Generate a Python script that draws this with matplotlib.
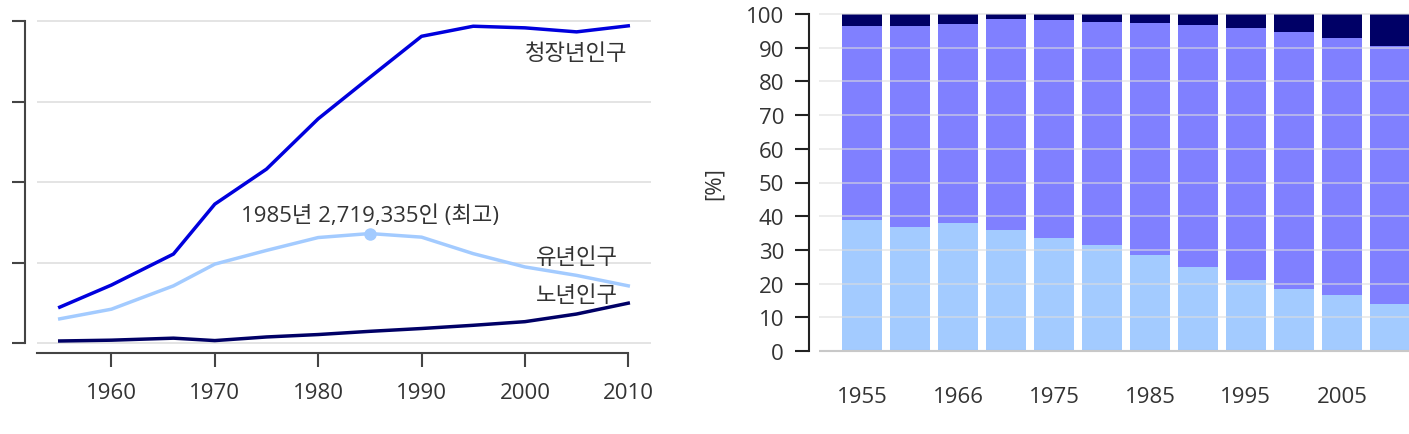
import matplotlib
matplotlib.use('Agg')
import matplotlib.pyplot as plt

plt.rcParams['font.family'] = ['Open Sans', 'Noto Sans CJK KR', 'DejaVu Sans']

# census years
years = [1955, 1960, 1966, 1970, 1975, 1980, 1985, 1990, 1995, 2000, 2005, 2010]

# population by age group, millions
working = [0.89, 1.44, 2.21, 3.45, 4.32, 5.57, 6.60, 7.62, 7.87, 7.83, 7.73, 7.88]
young = [0.60, 0.84, 1.42, 1.96, 2.30, 2.62, 2.719335, 2.63, 2.22, 1.89, 1.68, 1.42]
old = [0.05, 0.07, 0.12, 0.06, 0.15, 0.21, 0.29, 0.36, 0.44, 0.53, 0.72, 0.99]

# shares in %
young_pct = [38.8, 36.9, 38.1, 35.9, 33.6, 31.4, 28.4, 24.9, 21.1, 18.5, 16.6, 13.9]
working_pct = [57.7, 59.6, 58.8, 62.6, 64.7, 66.3, 68.9, 71.8, 74.8, 76.3, 76.4, 76.6]
old_pct = [3.5, 3.5, 3.1, 1.5, 1.7, 2.3, 2.7, 3.3, 4.1, 5.2, 7.0, 9.5]

peak_year = 1985
peak_value = 2.719335
peak_label = '1985년 2,719,335인 (최고)'

c_working = '#0000dd'
c_young = '#a3cbff'
c_old = '#000066'
c_bar_working = '#8080ff'
txt = '#333333'
fs = 16

W, H = 1409, 435
fig = plt.figure(figsize=(W / 100, H / 100), dpi=100)

# ---- left: line chart ----
ax1 = fig.add_axes([37 / W, (H - 346) / H, 614 / W, 326 / H])
ax1.plot(years, working, color=c_working, lw=2.5, solid_joinstyle='round')
ax1.plot(years, young, color=c_young, lw=2.5, solid_joinstyle='round')
ax1.plot(years, old, color=c_old, lw=2.5, solid_joinstyle='round')
ax1.plot([peak_year], [peak_value], 'o', color=c_young, ms=8)

ax1.set_xlim(1952.8, 2012.2)
ax1.set_ylim(-2 / 40.25, 8 + 2 / 40.25)
ax1.set_yticks([0, 2, 4, 6, 8])
ax1.set_yticklabels([])
ax1.set_xticks([1960, 1970, 1980, 1990, 2000, 2010])
ax1.grid(axis='y', color='#e4e4e4', lw=1.4)
ax1.set_axisbelow(True)

for s in ['top', 'right']:
    ax1.spines[s].set_visible(False)
ax1.spines['left'].set_position(('outward', 8.6))
ax1.spines['left'].set_bounds(0, 8)
ax1.spines['bottom'].set_position(('outward', 5.8))
ax1.spines['bottom'].set_bounds(1952.8, 2010)
for s in ['left', 'bottom']:
    ax1.spines[s].set_color('#444444')
    ax1.spines[s].set_linewidth(1.5)
ax1.tick_params(axis='y', length=9.5, width=1.5, color='#444444')
ax1.tick_params(axis='x', length=10, width=1.5, color='#444444',
                labelsize=fs, labelcolor=txt, pad=11)

ax1.text(2005, 7.2, '청장년인구', ha='center', va='center', fontsize=fs, color=txt)
ax1.text(2005, 2.13, '유년인구', ha='center', va='center', fontsize=fs, color=txt)
ax1.text(2005, 1.19, '노년인구', ha='center', va='center', fontsize=fs, color=txt)
ax1.text(peak_year, 3.17, peak_label, ha='center', va='center', fontsize=fs, color=txt)

# ---- right: stacked bars ----
ax2 = fig.add_axes([819 / W, (H - 354) / H, (W - 819) / W, 341 / H])
idx = list(range(len(years)))
bw = 0.84
bottom2 = [a + b for a, b in zip(young_pct, working_pct)]
ax2.bar(idx, young_pct, width=bw, color=c_young)
ax2.bar(idx, working_pct, bottom=young_pct, width=bw, color=c_bar_working)
ax2.bar(idx, old_pct, bottom=bottom2, width=bw, color=c_old)

ax2.set_xlim(-0.896, 11.4)
ax2.set_ylim(-2 / 3.37, 100 + 2 / 3.37)
ax2.set_yticks(range(0, 101, 10))
ax2.set_xticks(idx[::2])
ax2.set_xticklabels([str(y) for y in years[::2]])
ax2.grid(axis='y', color='#dddddd', lw=1.3, alpha=0.6)
ax2.set_axisbelow(False)
ax2.axhline(0, color='#b0b0b0', lw=1.5)

for s in ['top', 'right', 'bottom']:
    ax2.spines[s].set_visible(False)
ax2.spines['left'].set_position(('outward', 7.2))
ax2.spines['left'].set_bounds(0, 100)
ax2.spines['left'].set_color('#222222')
ax2.spines['left'].set_linewidth(1.5)
ax2.tick_params(axis='y', length=10, width=1.5, color='#222222',
                labelsize=fs, labelcolor=txt, pad=8)
ax2.tick_params(axis='x', length=0, labelsize=fs, labelcolor=txt, pad=24)
ax2.set_ylabel('[%]', fontsize=fs, color=txt)
ax2.yaxis.set_label_coords(-0.16, 0.5)

fig.savefig('out.png', dpi=100)
